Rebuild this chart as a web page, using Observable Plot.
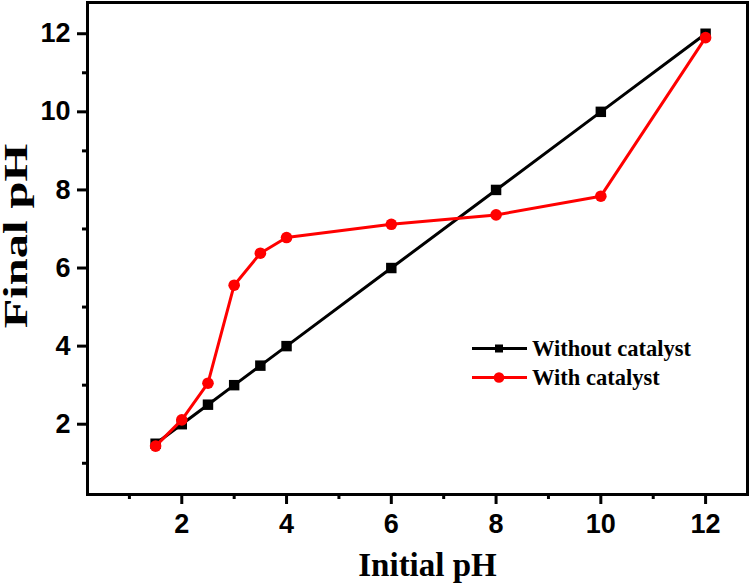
<!DOCTYPE html>
<html>
<head>
<meta charset="utf-8">
<script src="https://cdn.jsdelivr.net/npm/d3@7"></script>
<script src="https://cdn.jsdelivr.net/npm/@observablehq/plot@0.6"></script>
<style>
  html, body { margin: 0; padding: 0; background: #fff; }
  #wrap { position: relative; width: 750px; height: 585px; }
  #legend { position: absolute; left: 472px; top: 334px; font-family: "Liberation Serif", "Times New Roman", serif; font-weight: bold; font-size: 22.5px; color: #000; }
  .row { display: flex; align-items: center; height: 29px; }
  .row svg { margin-right: 5px; flex: none; }
</style>
</head>
<body>
<div id="wrap"></div>
<script>
const initialPH = [1.5, 2, 2.5, 3, 3.5, 4, 6, 8, 10, 12];
const withoutCatalyst = [1.5, 2, 2.5, 3, 3.5, 4, 6, 8, 10, 12];
const withCatalyst = [1.44, 2.11, 3.05, 5.56, 6.38, 6.78, 7.12, 7.36, 7.84, 11.9];
const majorTicks = [2, 4, 6, 8, 10, 12];
const minorTicks = [1, 3, 5, 7, 9, 11];
const seriesNames = ["Without catalyst", "With catalyst"];
const seriesColors = ["#000000", "#ff0000"];
const xTitle = "Initial pH";
const yTitle = "Final pH";

const rowsA = initialPH.map((x, i) => ({x, y: withoutCatalyst[i]}));
const rowsB = initialPH.map((x, i) => ({x, y: withCatalyst[i]}));

const tickFont = {fontFamily: "Liberation Sans, Arial, sans-serif", fontWeight: "bold", fontSize: 27};
const titleFont = {fontFamily: "Liberation Serif, Times New Roman, serif", fontWeight: "bold", fontSize: 33};

const chart = Plot.plot({
  width: 750,
  height: 585,
  marginLeft: 87,
  marginRight: 3,
  marginTop: 2,
  marginBottom: 91,
  style: {background: "#fff", color: "#000"},
  x: {domain: [0.2, 12.8]},
  y: {domain: [0.2, 12.8]},
  marks: [
    Plot.axisX(majorTicks, {tickSize: 10, tickPadding: 9, strokeWidth: 3, label: null, ...tickFont}),
    Plot.axisX(minorTicks, {tickSize: 5, strokeWidth: 3, text: null, label: null}),
    Plot.axisY(majorTicks, {tickSize: 10, tickPadding: 7, strokeWidth: 3, label: null, ...tickFont}),
    Plot.axisY(minorTicks, {tickSize: 5, strokeWidth: 3, text: null, label: null}),
    Plot.frame({stroke: "#000", strokeWidth: 3}),
    Plot.line(rowsA, {x: "x", y: "y", stroke: seriesColors[0], strokeWidth: 3}),
    Plot.dot(rowsA, {x: "x", y: "y", symbol: "square", r: 5.9, fill: seriesColors[0]}),
    Plot.line(rowsB, {x: "x", y: "y", stroke: seriesColors[1], strokeWidth: 3}),
    Plot.dot(rowsB, {x: "x", y: "y", symbol: "circle", r: 5.8, fill: seriesColors[1]}),
    Plot.text([xTitle], {frameAnchor: "bottom", dx: 10, dy: 81, lineAnchor: "bottom", textAnchor: "middle", text: d => d, ...titleFont}),
    Plot.text([yTitle], {frameAnchor: "left", dx: -71, rotate: -90, textAnchor: "middle", lineAnchor: "middle", text: d => d, className: "ytitle", ...titleFont})
  ]
});
const wrap = document.getElementById("wrap");
wrap.appendChild(chart);

// stretch the y title along its length as in the reference
d3.select(chart).selectAll("g.ytitle text").each(function() {
  const t = d3.select(this);
  const tr = t.attr("transform") || "";
  const m = tr.match(/translate\(([-\d.]+),\s*([-\d.]+)\)/);
  if (m) {
    t.attr("transform", `translate(${m[1]},235.5) rotate(-90) scale(1.47,1)`);
    t.attr("text-anchor", "middle");
  }
});

const legend = document.createElement("div");
legend.id = "legend";
seriesNames.forEach((name, i) => {
  const row = document.createElement("div");
  row.className = "row";
  const marker = i === 0
    ? `<rect x="23" y="5.5" width="8" height="8" fill="${seriesColors[i]}"/>`
    : `<circle cx="27" cy="9.5" r="5.3" fill="${seriesColors[i]}"/>`;
  row.innerHTML = `<svg width="55" height="19"><line x1="0" x2="55" y1="9.5" y2="9.5" stroke="${seriesColors[i]}" stroke-width="3"/>${marker}</svg><span>${name}</span>`;
  legend.appendChild(row);
});
wrap.appendChild(legend);
</script>
</body>
</html>
